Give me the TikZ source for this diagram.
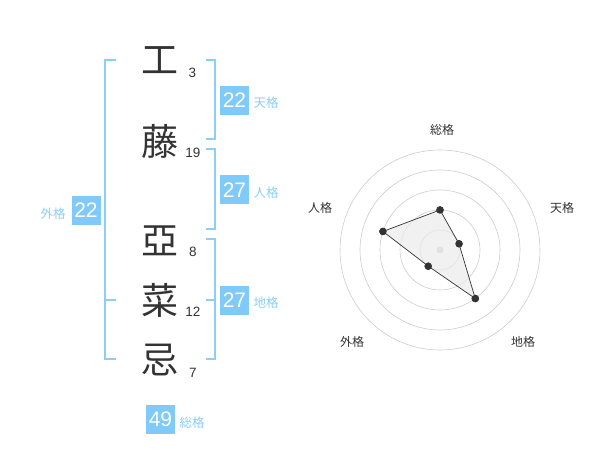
\documentclass[tikz,border=0pt]{standalone}
\usepackage{fontspec}
\setmainfont{Liberation Sans}
\newfontfamily\jp{Noto Sans CJK JP}
\usetikzlibrary{calc}
\definecolor{kakublue}{RGB}{128,202,250}
\definecolor{lineblue}{RGB}{140,206,246}
\definecolor{ink}{RGB}{51,51,51}
\begin{document}
\begin{tikzpicture}[x=1pt,y=1pt]
        \tikzstyle{kanji}=[inner sep=0pt,text=ink,font=\jp\fontsize{37}{37}\selectfont]
        \tikzstyle{stroke}=[inner sep=0pt,text=ink,font=\fontsize{13.5}{13.5}\selectfont]
        \tikzstyle{kaku}=[fill=kakublue,text=white,minimum size=29pt,inner sep=0pt,font=\fontsize{21}{21}\selectfont]
        \tikzstyle{kakuname}=[inner sep=0pt,text=lineblue,font=\jp\fontsize{12.5}{12.5}\selectfont]
        \tikzstyle{bracket}=[draw=lineblue,line width=1.6pt]
        \tikzstyle{ring}=[draw=black!20,line width=0.6pt]
        \tikzstyle{dot}=[circle,fill=ink,inner sep=0pt,minimum size=7.5pt]
        \tikzstyle{axis}=[inner sep=0pt,text=ink,font=\jp\fontsize{12}{12}\selectfont]
        \useasboundingbox (0,0) rectangle (600,470);
       \begin{scope}
         % name
         \node [kanji] (c1) at (160,410) {工};
         \node [kanji] (c2) at (160,328) {藤};
         \node [kanji] (c3) at (160,229) {亞};
         \node [kanji] (c4) at (160,170) {菜};
         \node [kanji] (c5) at (160,110) {忌};
         \node [stroke] (n1) at (192.5,397) {3};
         \node [stroke] (n2) at (193,317) {19};
         \node [stroke] (n3) at (193,218) {8};
         \node [stroke] (n4) at (193,158) {12};
         \node [stroke] (n5) at (193,97) {7};

         % brackets
         \coordinate (gtop) at (105,410);
         \coordinate (gbot) at (105,111);
         \draw[bracket] (116,410) -- (gtop) -- (gbot) -- (116,111);
         \draw[bracket] (105,170) -- (116,170);
         \coordinate (ttop) at (215,410);
         \coordinate (tbot) at (215,331);
         \draw[bracket] (206,410) -- (ttop) -- (tbot) -- (206,331);
         \coordinate (jtop) at (215,321);
         \coordinate (jbot) at (215,241);
         \draw[bracket] (206,321) -- (jtop) -- (jbot) -- (206,241);
         \coordinate (ctop) at (215,231);
         \coordinate (cbot) at (215,111);
         \draw[bracket] (206,231) -- (ctop) -- (cbot) -- (206,111);
         \draw[bracket] (206,170) -- (215,170);

         % kaku
         \node [kaku] (ten) at (234.5,369.5) {22};
         \node [kaku] (jin) at (234.5,280) {27};
         \node [kaku] (chi) at (234.5,169.5) {27};
         \node [kaku] (gai) at (86,259.5) {22};
         \node [kaku] (sou) at (160.5,50.5) {49};
         \node [kakuname] at (266,367) {天格};
         \node [kakuname] at (266,277) {人格};
         \node [kakuname] at (266,167) {地格};
         \node [kakuname] at (53,256) {外格};
         \node [kakuname] at (192,47) {総格};
        \end{scope}

       \begin{scope}
         \coordinate (ctr) at (440,220);
         \foreach \r in {20,40,60,80,100}
           \draw[ring] (ctr) circle[radius=\r pt];
         \fill[black!20] (ctr) circle[radius=3.5pt];

         \node [dot] (p1) at ($(ctr)+(90:40)$) {};
         \node [dot] (p2) at ($(ctr)+(18:20)$) {};
         \node [dot] (p3) at ($(ctr)+(-54:60)$) {};
         \node [dot] (p4) at ($(ctr)+(-126:20)$) {};
         \node [dot] (p5) at ($(ctr)+(162:60)$) {};
         \fill[black!8,opacity=0.7] (p1.center) -- (p2.center) -- (p3.center) -- (p4.center) -- (p5.center) -- cycle;
         \draw[ink,line width=0.7pt] (p1.center) -- (p2.center) -- (p3.center) -- (p4.center) -- (p5.center) -- cycle;
         \foreach \p in {p1,p2,p3,p4,p5}
           \fill[ink] (\p) circle[radius=3.7pt];

         \node [axis] (a1) at (442,340) {総格};
         \node [axis] (a2) at (562,262) {天格};
         \node [axis] (a3) at (523,128) {地格};
         \node [axis] (a4) at (352,128) {外格};
         \node [axis] (a5) at (320,262) {人格};
        \end{scope}
      \end{tikzpicture}
\end{document}
